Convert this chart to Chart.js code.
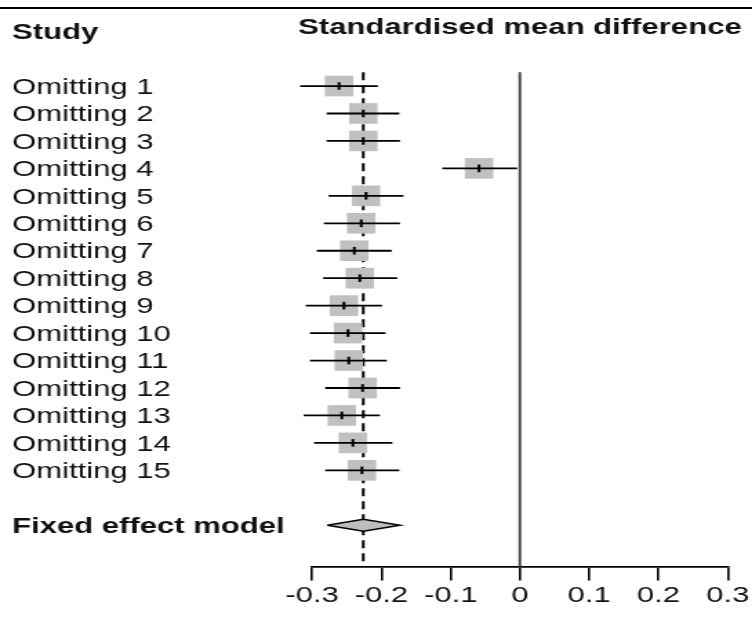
<!DOCTYPE html>
<html>
<head>
<meta charset="utf-8">
<script src="https://cdn.jsdelivr.net/npm/chart.js@4.4.1/dist/chart.umd.min.js"></script>
<style>
  html, body { margin: 0; padding: 0; background: #fff; }
  body { width: 752px; height: 619px; position: relative; overflow: hidden; }
  #topline { position: absolute; left: 0; top: 7px; width: 752px; height: 0; border-top: 2px solid #000; }
  #wrap { position: absolute; left: 0; top: 0; width: 545px; height: 619px; transform: scaleX(1.38); transform-origin: 0 0; }
  canvas { display: block; }
</style>
</head>
<body>
<div id="topline"></div>
<div id="wrap"><canvas id="c" width="545" height="619" style="width:545px;height:619px"></canvas></div>
<script>
// ---- data ----
const studies = ["Omitting 1","Omitting 2","Omitting 3","Omitting 4","Omitting 5","Omitting 6","Omitting 7","Omitting 8","Omitting 9","Omitting 10","Omitting 11","Omitting 12","Omitting 13","Omitting 14","Omitting 15"];
const estimates = [-0.261,-0.226,-0.226,-0.059,-0.222,-0.229,-0.239,-0.231,-0.254,-0.248,-0.247,-0.227,-0.257,-0.241,-0.228];
const lowerCI  = [-0.317,-0.279,-0.279,-0.112,-0.276,-0.283,-0.293,-0.284,-0.309,-0.303,-0.303,-0.281,-0.312,-0.297,-0.281];
const upperCI  = [-0.205,-0.174,-0.173,-0.004,-0.168,-0.173,-0.185,-0.177,-0.199,-0.194,-0.192,-0.173,-0.202,-0.184,-0.174];
const fixedLabel = "Fixed effect model";
const fixedEst = -0.226;
const fixedLower = -0.278;
const fixedUpper = -0.173;
const xTickValues = [-0.3,-0.2,-0.1,0,0.1,0.2,0.3];
const xTickLabels = ["-0.3","-0.2","-0.1","0","0.1","0.2","0.3"];
const headerStudy = "Study";
const headerEffect = "Standardised mean difference";

// ---- derived ----
const fixedRow = studies.length + 2;          // 17
const rowMin = 0.5, rowMax = fixedRow + 1.5;  // 0.5 .. 18.5
const rowLabels = {};
studies.forEach((s, i) => { rowLabels[i + 1] = s; });
rowLabels[fixedRow] = fixedLabel;
const FONT = '"Liberation Sans", Arial, sans-serif';
const FSIZE = 22.5;

const ciSets = studies.map((s, i) => ({
  data: [{x: lowerCI[i], y: i + 1}, {x: upperCI[i], y: i + 1}],
  showLine: true, borderColor: '#000', borderWidth: 1.8, pointRadius: 0, clip: false
}));

const diamondH = 0.22;
const datasets = [
  { // point estimate ticks
    data: estimates.map((v, i) => ({x: v, y: i + 1})),
    pointStyle: 'line', rotation: 90, pointRadius: 3.8, borderWidth: 2,
    borderColor: '#000', backgroundColor: '#000', clip: false
  },
  ...ciSets,
  { // boxes
    data: estimates.map((v, i) => ({x: v, y: i + 1})),
    pointStyle: 'rect', pointRadius: 14.6, borderWidth: 0,
    backgroundColor: '#c0c0c0', borderColor: '#c0c0c0', clip: false
  },
  { // diamond
    data: [{x: fixedLower, y: fixedRow}, {x: fixedEst, y: fixedRow - diamondH},
           {x: fixedUpper, y: fixedRow}, {x: fixedEst, y: fixedRow + diamondH},
           {x: fixedLower, y: fixedRow}],
    showLine: true, fill: 'shape', backgroundColor: '#bdbdbd', borderColor: '#000',
    borderWidth: 1.5, pointRadius: 0, tension: 0, clip: false
  },
  { // fixed-effect dashed line
    data: [{x: fixedEst, y: rowMin}, {x: fixedEst, y: rowMax}],
    showLine: true, borderColor: '#000', borderWidth: 2, borderDash: [8, 5],
    pointRadius: 0, clip: false
  },
  { // line of no effect
    data: [{x: 0, y: rowMin}, {x: 0, y: rowMax}],
    showLine: true, borderColor: '#4a4a4a', borderWidth: 2, pointRadius: 0, clip: false
  }
];

const headerPlugin = {
  id: 'headers',
  afterDraw(chart) {
    const ctx = chart.ctx;
    ctx.save();
    ctx.fillStyle = '#111';
    ctx.font = 'bold ' + FSIZE + 'px ' + FONT;
    ctx.textBaseline = 'alphabetic';
    ctx.textAlign = 'left';
    ctx.fillText(headerStudy, 8.7, 38.5);
    ctx.textAlign = 'center';
    ctx.fillText(headerEffect, chart.scales.x.getPixelForValue(0), 33.5);
    ctx.restore();
  }
};

new Chart(document.getElementById('c'), {
  type: 'scatter',
  data: { datasets },
  plugins: [headerPlugin],
  options: {
    responsive: false,
    animation: false,
    events: [],
    layout: { padding: { left: 8.7, top: 72.3, right: 15.4, bottom: 0 } },
    plugins: { legend: { display: false }, tooltip: { enabled: false } },
    scales: {
      x: {
        type: 'linear', position: 'bottom', min: -0.3, max: 0.3,
        afterBuildTicks(scale) { scale.ticks = xTickValues.map(v => ({value: v})); },
        afterFit(scale) { scale.height = 52.6; },
        ticks: {
          autoSkip: false, maxRotation: 0, padding: 2, color: '#111',
          font: { family: FONT, size: FSIZE },
          callback: (v, i) => xTickLabels[i]
        },
        grid: { display: true, drawOnChartArea: false, drawTicks: true, tickLength: 14, color: '#000', lineWidth: 1.6 },
        border: { display: true, color: '#000', width: 1.8 }
      },
      y: {
        type: 'linear', position: 'left', reverse: true, min: rowMin, max: rowMax,
        afterBuildTicks(scale) { scale.ticks = Object.keys(rowLabels).map(k => ({value: +k})); },
        afterFit(scale) { scale.width = 217.4; },
        ticks: {
          autoSkip: false, crossAlign: 'far', color: '#111', labelOffset: 1.5,
          font: (ctx) => ({ family: FONT, size: FSIZE, weight: (ctx.tick && ctx.tick.value === fixedRow) ? 'bold' : 'normal' }),
          callback: (v) => rowLabels[v] || ''
        },
        grid: { display: false },
        border: { display: false }
      }
    }
  }
});
</script>
</body>
</html>
